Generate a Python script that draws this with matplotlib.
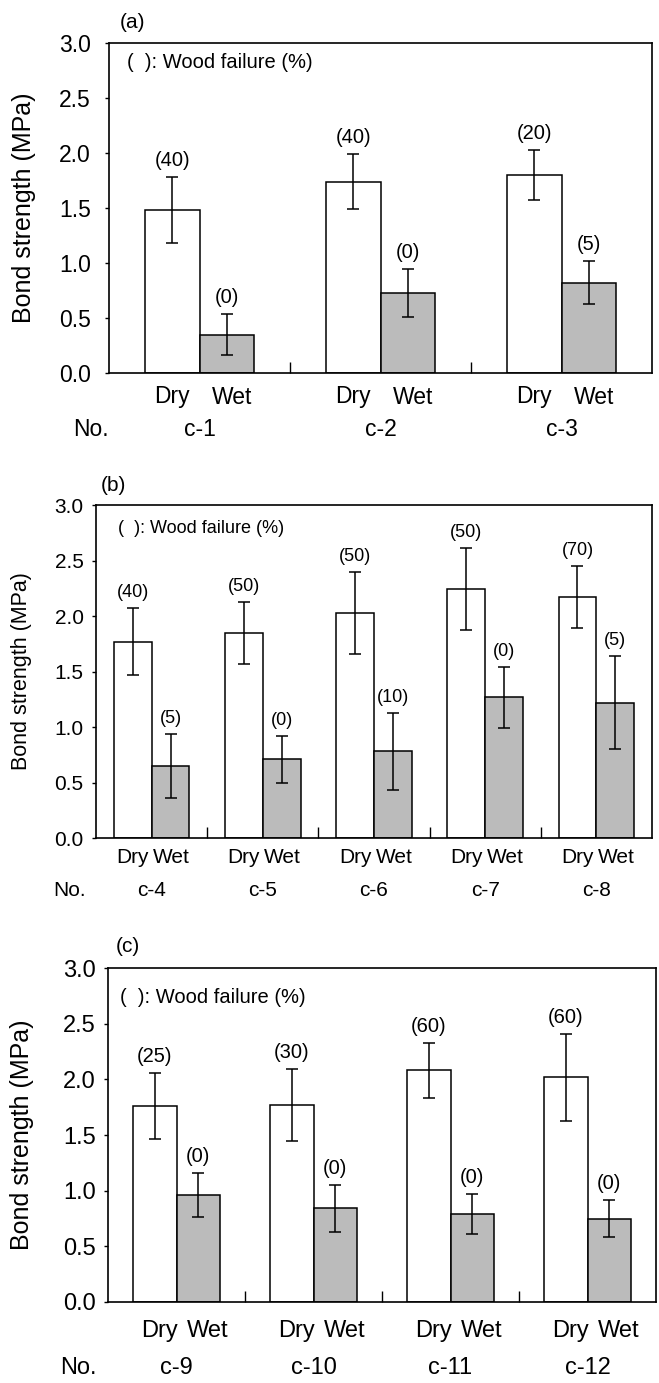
import numpy as np
import matplotlib
matplotlib.use("Agg")
import matplotlib.pyplot as plt

plt.rcParams['font.family'] = ['Liberation Sans', 'DejaVu Sans']

# panel (a)
groups_a = ['c-1', 'c-2', 'c-3']
dry_a = [1.48, 1.74, 1.80]
dry_err_a = [0.30, 0.25, 0.23]
wet_a = [0.35, 0.73, 0.82]
wet_err_a = [0.19, 0.22, 0.195]
dry_wf_a = ['(40)', '(40)', '(20)']
wet_wf_a = ['(0)', '(0)', '(5)']

# panel (b)
groups_b = ['c-4', 'c-5', 'c-6', 'c-7', 'c-8']
dry_b = [1.77, 1.85, 2.03, 2.24, 2.17]
dry_err_b = [0.30, 0.28, 0.37, 0.37, 0.28]
wet_b = [0.65, 0.71, 0.78, 1.27, 1.22]
wet_err_b = [0.29, 0.21, 0.35, 0.275, 0.42]
dry_wf_b = ['(40)', '(50)', '(50)', '(50)', '(70)']
wet_wf_b = ['(5)', '(0)', '(10)', '(0)', '(5)']

# panel (c)
groups_c = ['c-9', 'c-10', 'c-11', 'c-12']
dry_c = [1.76, 1.77, 2.08, 2.02]
dry_err_c = [0.30, 0.32, 0.25, 0.39]
wet_c = [0.96, 0.84, 0.79, 0.75]
wet_err_c = [0.20, 0.21, 0.18, 0.17]
dry_wf_c = ['(25)', '(30)', '(60)', '(60)']
wet_wf_c = ['(0)', '(0)', '(0)', '(0)']

W, H = 659, 1383
fig = plt.figure(figsize=(W / 100, H / 100), dpi=100)


def px_axes(l, t, r, b):
    return fig.add_axes([l / W, 1 - b / H, (r - l) / W, (b - t) / H])


panels = [
    dict(box=(109, 43, 652, 373), groups=groups_a, dry=dry_a, dry_err=dry_err_a,
         wet=wet_a, wet_err=wet_err_a, dwf=dry_wf_a, wwf=wet_wf_a, bw=0.30,
         tag='(a)', tag_xy=(120, 22), no_xy=(91, 430), dw_pad=9, grp_off=57,
         wf_xy=(0.033, 0.94), wf_fs=14.5, lab_fs=14.5, ypad=10, ylab_x=-0.134,
         dry_sh=0.0, wet_sh=0.03, fs=16.5, ylab_fs=18),
    dict(box=(96, 505, 652, 838), groups=groups_b, dry=dry_b, dry_err=dry_err_b,
         wet=wet_b, wet_err=wet_err_b, dwf=dry_wf_b, wwf=wet_wf_b, bw=0.34,
         tag='(b)', tag_xy=(101, 485), no_xy=(70, 890), dw_pad=7.5, grp_off=52,
         wf_xy=(0.04, 0.93), wf_fs=13, lab_fs=13, ypad=6, ylab_x=-0.115,
         dry_sh=0.0, wet_sh=0.01, fs=15, ylab_fs=15.5),
    dict(box=(108, 968, 656, 1302), groups=groups_c, dry=dry_c, dry_err=dry_err_c,
         wet=wet_c, wet_err=wet_err_c, dwf=dry_wf_c, wwf=wet_wf_c, bw=0.32,
         tag='(c)', tag_xy=(116, 947), no_xy=(78, 1368), dw_pad=13, grp_off=66,
         wf_xy=(0.022, 0.913), wf_fs=14.5, lab_fs=14.5, ypad=6, ylab_x=-0.135,
         dry_sh=0.035, wet_sh=0.07, fs=17, ylab_fs=18),
]

for p in panels:
    ax = px_axes(*p['box'])
    n = len(p['groups'])
    x = np.arange(n)
    bw = p['bw']
    fs = p['fs']
    ekw = dict(ecolor='black', elinewidth=1.1, capsize=4.5, capthick=1.1)
    ax.bar(x - bw / 2, p['dry'], bw, yerr=p['dry_err'], color='white',
           edgecolor='black', linewidth=1.1, error_kw=ekw, zorder=2)
    ax.bar(x + bw / 2, p['wet'], bw, yerr=p['wet_err'], color='#bbbbbb',
           edgecolor='black', linewidth=1.1, error_kw=ekw, zorder=2)

    # wood failure labels
    for i in range(n):
        ax.annotate(p['dwf'][i], (x[i] - bw / 2, p['dry'][i] + p['dry_err'][i]),
                    xytext=(0, 7), textcoords='offset pixels', ha='center',
                    va='bottom', fontsize=p['lab_fs'])
        ax.annotate(p['wwf'][i], (x[i] + bw / 2, p['wet'][i] + p['wet_err'][i]),
                    xytext=(0, 7), textcoords='offset pixels', ha='center',
                    va='bottom', fontsize=p['lab_fs'])

    ax.set_xlim(-0.5, n - 0.5)
    ax.set_ylim(0, 3.0)
    ax.set_yticks(np.arange(0, 3.01, 0.5))
    ax.set_yticklabels(['%.1f' % v for v in np.arange(0, 3.01, 0.5)], fontsize=fs)
    ax.tick_params(axis='y', direction='out', length=3, width=1, pad=p['ypad'])

    # Dry / Wet as tick labels, group dividers as inward minor ticks
    ticks = np.concatenate([x - bw / 2 + p['dry_sh'], x + bw / 2 + p['wet_sh']])
    labels = ['Dry'] * n + ['Wet'] * n
    ax.set_xticks(ticks)
    ax.set_xticklabels(labels, fontsize=fs)
    ax.tick_params(axis='x', which='major', length=0, pad=p['dw_pad'])
    ax.set_xticks(np.arange(0.5, n - 0.5, 1.0), minor=True)
    ax.tick_params(axis='x', which='minor', direction='in', length=8, width=1)

    for i, g in enumerate(p['groups']):
        ax.annotate(g, (x[i], 0), xycoords=('data', 'axes fraction'),
                    xytext=(0, -p['grp_off']), textcoords='offset pixels',
                    ha='center', va='center', fontsize=fs)
    fig.text(p['no_xy'][0] / W, 1 - p['no_xy'][1] / H, 'No.', ha='center',
             va='center', fontsize=fs)
    fig.text(p['tag_xy'][0] / W, 1 - p['tag_xy'][1] / H, p['tag'], ha='left',
             va='center', fontsize=15)

    ax.text(p['wf_xy'][0], p['wf_xy'][1], '(  ): Wood failure (%)',
            transform=ax.transAxes, ha='left', va='center', fontsize=p['wf_fs'])

    ax.set_ylabel('Bond strength (MPa)', fontsize=p['ylab_fs'])
    ax.yaxis.set_label_coords(p['ylab_x'], 0.5)
    for s in ax.spines.values():
        s.set_linewidth(1.2)

fig.savefig('out.png', dpi=100)
